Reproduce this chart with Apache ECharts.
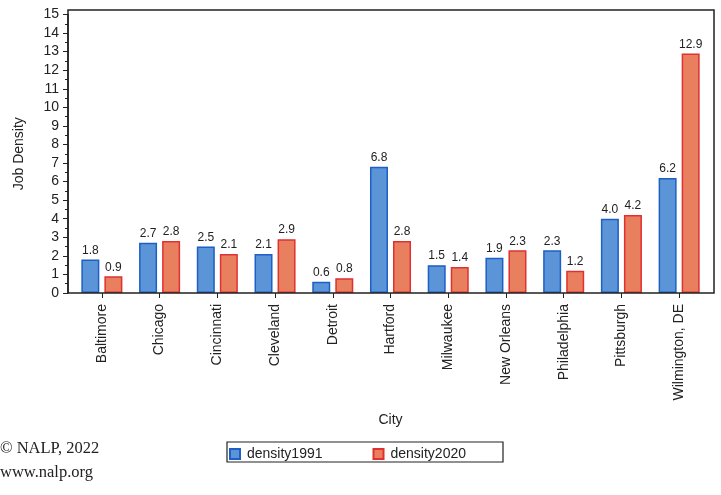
<!DOCTYPE html>
<html>
<head>
<meta charset="utf-8">
<script src="https://cdn.jsdelivr.net/npm/echarts@6/dist/echarts.min.js"></script>
<style>html,body{margin:0;padding:0;background:#fff;}#c{width:721px;height:495px;}</style>
</head>
<body>
<div id="c"></div>
<script>
const cities = ["Baltimore","Chicago","Cincinnati","Cleveland","Detroit","Hartford","Milwaukee","New Orleans","Philadelphia","Pittsburgh","Wilmington, DE"];
const density1991 = [1.8,2.7,2.5,2.1,0.6,6.8,1.5,1.9,2.3,4.0,6.2];
const density2020 = [0.9,2.8,2.1,2.9,0.8,2.8,1.4,2.3,1.2,4.2,12.9];
const yTicks = {min:0, max:15, interval:1};

const chart = echarts.init(document.getElementById('c'), null, {renderer:'canvas'});
const font = 'Liberation Sans, Arial, sans-serif';
const lbl = {show:true, position:'top', distance:3, fontSize:12, color:'#222', fontFamily:font, formatter:p=>p.value.toFixed(1)};
chart.setOption({
  animation:false,
  grid:{left:73, right:13, top:14.5, bottom:202, containLabel:false},
  xAxis:{type:'category', data:cities, boundaryGap:true,
    name:'City', nameLocation:'middle', nameGap:120, nameTextStyle:{fontSize:14, color:'#222', fontFamily:font},
    axisLine:{show:false},
    axisTick:{show:true, alignWithLabel:true, length:5, lineStyle:{color:'#222'}},
    axisLabel:{rotate:90, fontSize:14, color:'#222', fontFamily:font, margin:11, interval:0}},
  yAxis:{type:'value', min:yTicks.min, max:yTicks.max, interval:yTicks.interval, offset:5,
    name:'Job Density', nameLocation:'middle', nameGap:42, nameTextStyle:{fontSize:14, color:'#222', fontFamily:font},
    axisLine:{show:true, lineStyle:{color:'#222', width:1.5}},
    axisTick:{show:true, length:5, lineStyle:{color:'#222'}},
    minorTick:{show:true, splitNumber:2, length:3, lineStyle:{color:'#222'}},
    splitLine:{show:false},
    axisLabel:{fontSize:14, color:'#222', fontFamily:font, margin:9}},
  legend:{show:true, left:229, top:447, padding:0, itemWidth:10, itemHeight:10, itemGap:50,
    textStyle:{fontSize:14, color:'#222', fontFamily:font, padding:[0,0,0,2]}, icon:'rect'},
  series:[
    {name:'density1991', type:'bar', data:density1991, barWidth:18, barGap:'28%',
      itemStyle:{color:'#5b95d8', borderColor:'#1d5fc4', borderWidth:1.5}, label:lbl},
    {name:'density2020', type:'bar', data:density2020, barWidth:18,
      itemStyle:{color:'#e8805f', borderColor:'#e03030', borderWidth:1.5}, label:lbl}
  ],
  graphic:[
    {type:'rect', shape:{x:68, y:10, width:646, height:283}, style:{fill:null, stroke:'#222', lineWidth:1.5}, silent:true, z:10},
    {type:'rect', shape:{x:227, y:442, width:276, height:20}, style:{fill:null, stroke:'#222', lineWidth:1.2}, silent:true},
    {type:'text', left:0, top:440, style:{text:'© NALP, 2022', fontSize:16.5, fontFamily:'Liberation Serif, DejaVu Serif, serif', fill:'#222'}},
    {type:'text', left:0, top:464, style:{text:'www.nalp.org', fontSize:16.5, fontFamily:'Liberation Serif, DejaVu Serif, serif', fill:'#222'}}
  ]
});
</script>
</body>
</html>
